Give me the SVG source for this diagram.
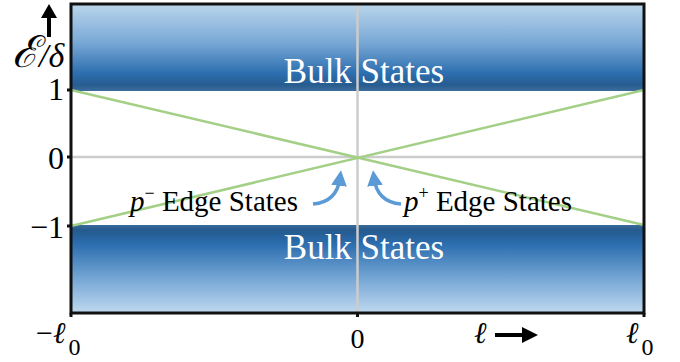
<svg xmlns="http://www.w3.org/2000/svg" width="680" height="362" viewBox="0 0 680 362">
<style>
.t{font-family:"Liberation Serif","Times New Roman",serif;fill:#000}
.w{font-family:"Liberation Serif","Times New Roman",serif;fill:#fff;font-size:35px}
.i{font-style:italic}
.l{font-family:"DejaVu Serif",serif;font-style:italic;font-weight:normal}
.g{stroke:#cccccc;stroke-width:2.5;fill:none}
.gr{stroke:#a3d086;stroke-width:2.5;fill:none}
.k{stroke:#111;stroke-width:3;fill:none}
.b{stroke:#5b9bd5;stroke-width:3.5;fill:none}
</style>
<defs>
<linearGradient id="top" x1="0" y1="0" x2="0" y2="1">
<stop offset="0" stop-color="#bcd7ec"/>
<stop offset="0.45" stop-color="#79a8d6"/>
<stop offset="0.8" stop-color="#2c6eaf"/>
<stop offset="0.93" stop-color="#265c90"/>
<stop offset="1" stop-color="#3d6d9c"/>
</linearGradient>
<linearGradient id="bot" x1="0" y1="0" x2="0" y2="1">
<stop offset="0" stop-color="#3a6a98"/>
<stop offset="0.06" stop-color="#245a8e"/>
<stop offset="0.22" stop-color="#2c6eaf"/>
<stop offset="0.6" stop-color="#74a5d4"/>
<stop offset="1" stop-color="#bfd9ef"/>
</linearGradient>
<marker id="bh" viewBox="0 0 10 10" refX="5" refY="5" markerWidth="4.5" markerHeight="4.5" orient="auto">
<path d="M0,0 L10,5 L0,10 z" fill="#5b9bd5"/>
</marker>
</defs>
<g id="bands">
<rect x="71" y="3" width="573" height="88" fill="url(#top)"/>
<rect x="71" y="225" width="573" height="88" fill="url(#bot)"/>
</g>
<g id="connectors">
<line class="g" x1="357.5" y1="3" x2="357.5" y2="313"/>
<line class="g" x1="71" y1="157" x2="644" y2="157"/>
<line class="gr" x1="71" y1="90" x2="644" y2="225"/>
<line class="gr" x1="71" y1="226" x2="644" y2="90"/>
<path class="b" d="M313,204 Q337,202 340,178" marker-end="url(#bh)"/>
<path class="b" d="M401,204 Q377,202 374,178" marker-end="url(#bh)"/>
</g>
<g id="frame">
<rect class="k" x="71" y="4" width="573" height="309"/>
<line class="k" x1="67" y1="90" x2="71" y2="90"/>
<line class="k" x1="67" y1="157" x2="71" y2="157"/>
<line class="k" x1="67" y1="226" x2="71" y2="226"/>
<line class="k" x1="71" y1="313" x2="71" y2="317"/>
<line class="k" x1="357.5" y1="313" x2="357.5" y2="317"/>
<line class="k" x1="644" y1="313" x2="644" y2="317"/>
</g>
<g id="labels">
<text class="w" x="364" y="83" text-anchor="middle">Bulk States</text>
<text class="w" x="364" y="259" text-anchor="middle">Bulk States</text>
<text class="t" x="130" y="211" font-size="29"><tspan class="i">p</tspan><tspan font-size="18" dy="-12">−</tspan><tspan dy="12"> Edge States</tspan></text>
<text class="t" x="404" y="211" font-size="29"><tspan class="i">p</tspan><tspan font-size="18" dy="-12">+</tspan><tspan dy="12"> Edge States</tspan></text>
<text class="t" x="64" y="100" font-size="32" text-anchor="end">1</text>
<text class="t" x="64" y="169" font-size="32" text-anchor="end">0</text>
<text class="t" x="64" y="238" font-size="32" text-anchor="end">−1</text>
<text class="t" x="357.5" y="348" font-size="28" text-anchor="middle">0</text>
<text class="t" x="36" y="343" font-size="30">−<tspan class="l" font-size="30">ℓ</tspan><tspan font-size="24" dx="3" dy="12">0</tspan></text>
<text class="l" x="474" y="343" font-size="30">ℓ</text>
<text class="t" x="626" y="343" font-size="30"><tspan class="l" font-size="30">ℓ</tspan><tspan font-size="24" dx="3" dy="12">0</tspan></text>
<text class="t i" x="12" y="67" font-size="44">ℰ<tspan font-size="34">/δ</tspan></text>
</g>
<g id="axisarrows">
<line x1="49" y1="37" x2="49" y2="16" stroke="#000" stroke-width="4"/>
<path d="M41,18 L57,18 L49,4 z" fill="#000"/>
<line x1="495" y1="335" x2="524" y2="335" stroke="#000" stroke-width="4"/>
<path d="M522,327 L538,335 L522,343 z" fill="#000"/>
</g>
</svg>
